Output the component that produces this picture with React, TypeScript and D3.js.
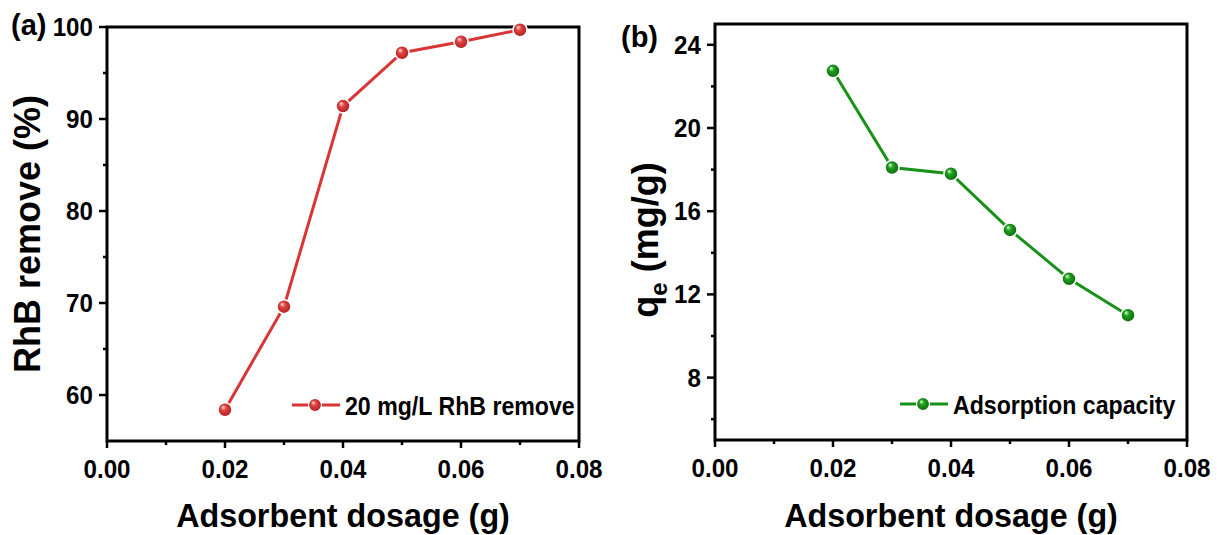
import React from "react";
import * as d3 from "d3";

const dosage = [0.02, 0.03, 0.04, 0.05, 0.06, 0.07];
const removal = [58.4, 69.6, 91.4, 97.2, 98.4, 99.7];
const capacity = [22.75, 18.1, 17.8, 15.1, 12.75, 11.0];

const xTicks = [0, 0.02, 0.04, 0.06, 0.08];
const xMinor = [0.01, 0.03, 0.05, 0.07];
const yTicksA = [60, 70, 80, 90, 100];
const yMinorA = [65, 75, 85, 95];
const yTicksB = [8, 12, 16, 20, 24];
const yMinorB = [6, 10, 14, 18, 22];

const FONT = "'Liberation Sans', Arial, Helvetica, sans-serif";

function Txt(props: { x: number; y: number; sx?: number; rot?: number; size: number; anchor?: string; children: React.ReactNode }) {
  const { x, y, sx = 1, rot = 0, size, anchor = "start", children } = props;
  return (
    <text
      transform={`translate(${x},${y}) rotate(${rot}) scale(${sx},1)`}
      textAnchor={anchor}
      fontSize={size}
    >
      {children}
    </text>
  );
}

type PanelProps = {
  left: number; top: number; right: number; bottom: number;
  yDomain: [number, number];
  yTicks: number[]; yMinor: number[];
  values: number[];
  color: string; gradId: string;
  label: string; labelX: number; labelY: number;
  legend: string; legendX: number; legendY: number;
  yTitle: React.ReactNode; yTitleX: number; yTitleY: number; yTitleSize: number;
};

function Panel(p: PanelProps) {
  const x = d3.scaleLinear().domain([0, 0.08]).range([p.left, p.right]);
  const y = d3.scaleLinear().domain(p.yDomain).range([p.bottom, p.top]);
  const line = d3.line<number>().x((_, i) => x(dosage[i])).y((d) => y(d));
  const pts = p.values.map((v, i) => ({ cx: x(dosage[i]), cy: y(v) }));
  const fmtX = d3.format(".2f");
  return (
    <g fontFamily={FONT} fontWeight="bold" fill="#000">
      {xTicks.map((t) => (
        <g key={"xt" + t}>
          <line x1={x(t)} x2={x(t)} y1={p.bottom} y2={p.bottom + 7} stroke="#000" strokeWidth={2.5} />
          <Txt x={x(t)} y={p.bottom + 37} anchor="middle" size={26} sx={0.93}>{fmtX(t)}</Txt>
        </g>
      ))}
      {xMinor.map((t) => (
        <line key={"xm" + t} x1={x(t)} x2={x(t)} y1={p.bottom} y2={p.bottom + 4} stroke="#000" strokeWidth={2.5} />
      ))}
      {p.yTicks.map((t) => (
        <g key={"yt" + t}>
          <line x1={p.left - 8} x2={p.left} y1={y(t)} y2={y(t)} stroke="#000" strokeWidth={2.5} />
          <Txt x={p.left - 14} y={y(t) + 9} anchor="end" size={26} sx={0.93}>{t}</Txt>
        </g>
      ))}
      {p.yMinor.map((t) => (
        <line key={"ym" + t} x1={p.left - 4} x2={p.left} y1={y(t)} y2={y(t)} stroke="#000" strokeWidth={2.5} />
      ))}
      <rect x={p.left} y={p.top} width={p.right - p.left} height={p.bottom - p.top} fill="none" stroke="#000" strokeWidth={3} />
      <path d={line(p.values) || ""} fill="none" stroke={p.color} strokeWidth={3} />
      {pts.map((d, i) => (
        <circle key={i} cx={d.cx} cy={d.cy} r={7} fill={`url(#${p.gradId})`} stroke="#fff" strokeWidth={1.5} />
      ))}
      <line x1={p.legendX} x2={p.legendX + 48} y1={p.legendY} y2={p.legendY} stroke={p.color} strokeWidth={3} />
      <circle cx={p.legendX + 23} cy={p.legendY} r={6.5} fill={`url(#${p.gradId})`} stroke="#fff" strokeWidth={1.2} />
      <Txt x={p.legendX + 53} y={p.legendY + 9.5} size={26} sx={0.89}>{p.legend}</Txt>
      <Txt x={(p.left + p.right) / 2} y={527} anchor="middle" size={34} sx={0.95}>Adsorbent dosage (g)</Txt>
      <Txt x={p.yTitleX} y={p.yTitleY} rot={-90} anchor="middle" size={p.yTitleSize}>{p.yTitle}</Txt>
      <Txt x={p.labelX} y={p.labelY} size={29}>{p.label}</Txt>
    </g>
  );
}

export default function App() {
  return (
    <svg width={1217} height={535} style={{ position: "absolute", left: 0, top: 0, background: "#fff" }}>
      <defs>
        <radialGradient id="gRed" cx="50%" cy="50%" r="55%" fx="35%" fy="30%">
          <stop offset="0%" stopColor="#ffe0e0" />
          <stop offset="35%" stopColor="#e04444" />
          <stop offset="100%" stopColor="#a81818" />
        </radialGradient>
        <radialGradient id="gGreen" cx="50%" cy="50%" r="55%" fx="35%" fy="30%">
          <stop offset="0%" stopColor="#e0ffe0" />
          <stop offset="35%" stopColor="#1ea01e" />
          <stop offset="100%" stopColor="#0a600a" />
        </radialGradient>
      </defs>
      <rect width={1217} height={535} fill="#fff" />
      <Panel
        left={107} top={27} right={579} bottom={441}
        yDomain={[55, 100]} yTicks={yTicksA} yMinor={yMinorA}
        values={removal} color="#d93535" gradId="gRed"
        label="(a)" labelX={11} labelY={35}
        legend="20 mg/L RhB remove" legendX={292} legendY={405}
        yTitle="RhB remove (%)" yTitleX={40} yTitleY={234} yTitleSize={36}
      />
      <Panel
        left={715} top={24} right={1187} bottom={440}
        yDomain={[5, 25]} yTicks={yTicksB} yMinor={yMinorB}
        values={capacity} color="#179117" gradId="gGreen"
        label="(b)" labelX={621} labelY={47}
        legend="Adsorption capacity" legendX={900} legendY={404}
        yTitle={<>q<tspan fontSize={24} dy={9}>e</tspan><tspan dy={-9}> (mg/g)</tspan></>}
        yTitleX={658} yTitleY={240} yTitleSize={36}
      />
    </svg>
  );
}
